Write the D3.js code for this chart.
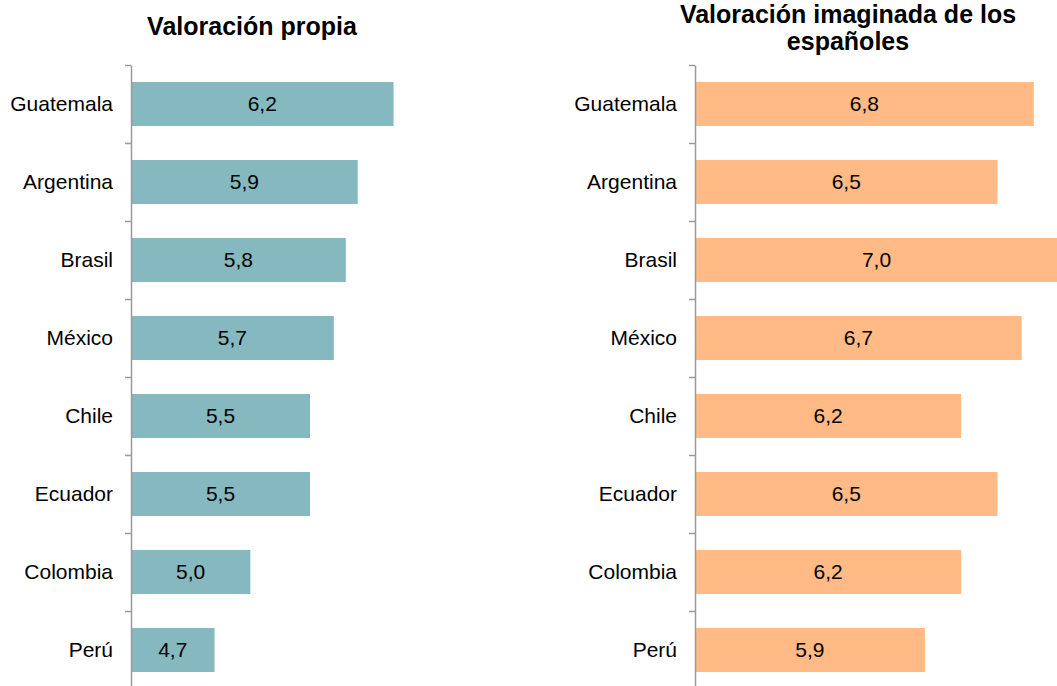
<!DOCTYPE html>
<html>
<head>
<meta charset="utf-8">
<script src="https://cdn.jsdelivr.net/npm/d3@7"></script>
<style>
  body { margin: 0; background: #fff; }
  text { font-family: "Liberation Sans", Arial, sans-serif; }
  .axis path, .axis line { stroke: #9a9a9a; stroke-width: 1.5; }
</style>
</head>
<body>
<svg id="chart" width="1057" height="686"></svg>
<script>
const countries = ["Guatemala", "Argentina", "Brasil", "México", "Chile", "Ecuador", "Colombia", "Perú"];
const ownValues = [6.2, 5.9, 5.8, 5.7, 5.5, 5.5, 5.0, 4.7];
const imaginedValues = [6.8, 6.5, 7.0, 6.7, 6.2, 6.5, 6.2, 5.9];
const titleLeft = ["Valoración propia"];
const titleRight = ["Valoración imaginada de los", "españoles"];

const svg = d3.select("#chart");
const plotTop = 65, step = 78;
const fmt = v => d3.format(".1f")(v).replace(".", ",");

// one panel: axis at x0, bars starting at x0
function panel(x0, width, values, color, title, titleX, titleY) {
  const x = d3.scaleLinear().domain([4, 7]).range([x0, x0 + width]);
  const y = d3.scaleBand()
    .domain(countries)
    .range([plotTop, plotTop + step * countries.length])
    .paddingInner(0.436)
    .paddingOuter(0.218);

  // title
  svg.append("text")
    .attr("x", titleX)
    .attr("text-anchor", "middle")
    .style("font-weight", "bold")
    .style("font-size", "25px")
    .selectAll("tspan")
    .data(title)
    .enter()
    .append("tspan")
    .attr("x", titleX)
    .attr("y", (d, i) => titleY + i * 27)
    .text(d => d);

  svg.selectAll(null)
    .data(values)
    .enter()
    .append("rect")
    .attr("x", x(4))
    .attr("y", (d, i) => y(countries[i]))
    .attr("width", d => x(d) - x(4))
    .attr("height", y.bandwidth())
    .style("fill", color);

  svg.selectAll(null)
    .data(values)
    .enter()
    .append("text")
    .attr("x", d => (x(4) + x(d)) / 2)
    .attr("y", (d, i) => y(countries[i]) + y.bandwidth() / 2)
    .attr("dy", "0.35em")
    .attr("text-anchor", "middle")
    .style("font-size", "21px")
    .text(d => fmt(d));

  // axis with ticks between categories
  const yi = d3.scaleLinear().domain([0, countries.length]).range(y.range());
  svg.append("g")
    .attr("class", "axis")
    .attr("transform", "translate(" + x0 + ",0)")
    .call(d3.axisLeft(yi).tickValues(d3.range(0, countries.length + 1)).tickFormat("").tickSize(6).tickSizeOuter(0));

  svg.selectAll(null)
    .data(countries)
    .enter()
    .append("text")
    .attr("x", x0 - 18)
    .attr("y", d => y(d) + y.bandwidth() / 2)
    .attr("dy", "0.35em")
    .attr("text-anchor", "end")
    .style("font-size", "21px")
    .text(d => d);
}

panel(131, 358, ownValues, "#85b9bf", titleLeft, 252, 35);
panel(695, 363, imaginedValues, "#ffba85", titleRight, 848, 23);
</script>
</body>
</html>
